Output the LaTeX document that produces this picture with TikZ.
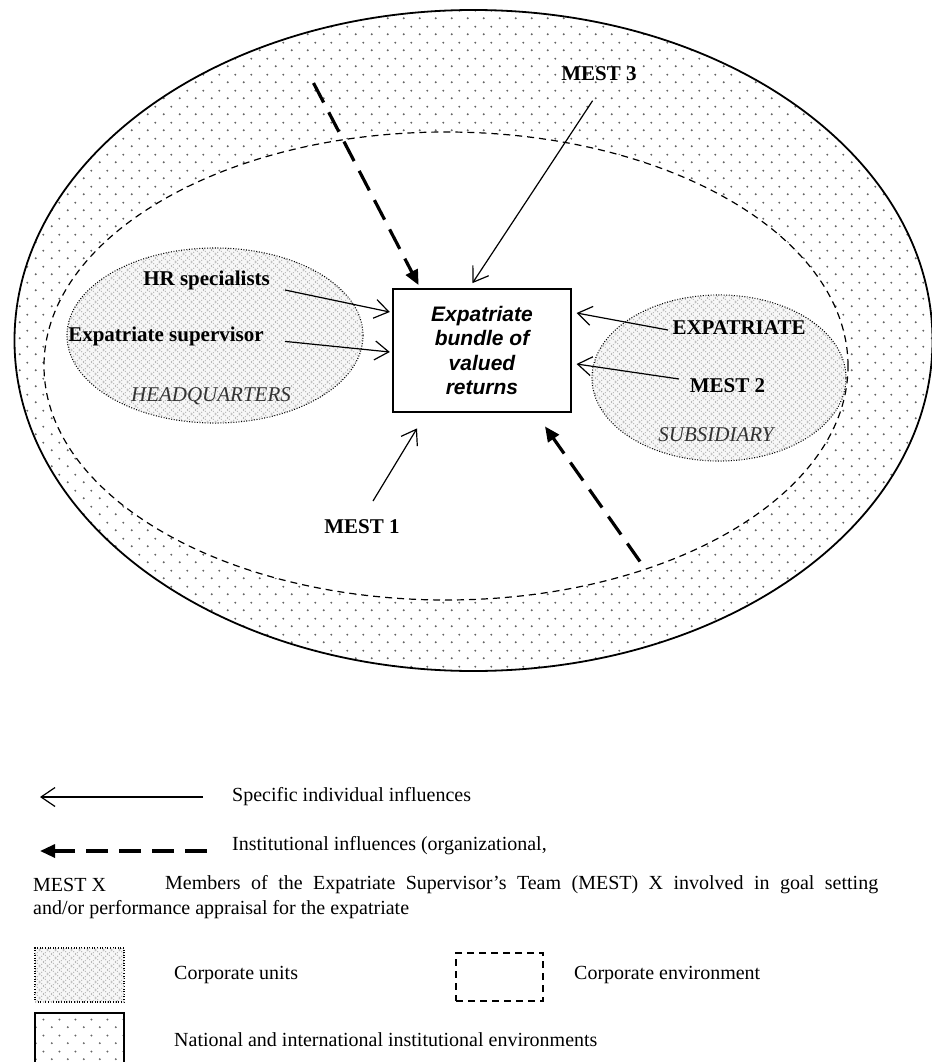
\documentclass[tikz,border=0pt]{standalone}
\usepackage{fontspec}
\setmainfont{Liberation Serif}
\newfontfamily\arialf{Liberation Sans}
\usetikzlibrary{arrows.meta,patterns.meta,shapes.geometric}

\tikzdeclarepattern{
  name=envdots,
  type=uncolored,
  bounding box={(0pt,0pt) and (16pt,16pt)},
  tile size={(16pt,16pt)},
  code={\fill (4pt,4pt) circle[radius=1.15pt]; \fill (12pt,12pt) circle[radius=1.15pt];}
}
\tikzdeclarepattern{
  name=unithatch,
  type=uncolored,
  bounding box={(-.5pt,-.5pt) and (8.5pt,8.5pt)},
  tile size={(8pt,8pt)},
  code={\draw[line width=0.85pt] (-.5pt,-.5pt) -- (8.5pt,8.5pt) (-.5pt,8.5pt) -- (8.5pt,-.5pt);}
}

\tikzset{
  envring/.style={ellipse, draw, line width=1.8pt, inner sep=0pt, pattern=envdots, pattern color=black!60},
  corpenv/.style={ellipse, draw, fill=white, line width=1.2pt, dash pattern=on 7pt off 5pt, inner sep=0pt},
  unitell/.style={ellipse, draw, line width=1.1pt, dash pattern=on 1pt off 1.6pt, inner sep=0pt, fill=black!3,
     postaction={pattern=unithatch, pattern color=black!28}},
  bundle/.style={draw, fill=white, line width=1.8pt, inner sep=0pt, minimum width=178pt, minimum height=123pt,
     align=center, font=\arialf\bfseries\itshape\fontsize{21}{24.5}\selectfont},
  actor/.style={inner sep=0pt, font=\bfseries\fontsize{21}{25}\selectfont},
  unitname/.style={inner sep=0pt, font=\itshape\fontsize{21}{25}\selectfont, text=black!80},
  legtext/.style={inner sep=0pt, anchor=west, font=\fontsize{20}{25}\selectfont},
  thinarr/.style={line width=1.2pt, -{Straight Barb[length=14pt,width=19pt,line width=1.2pt]}},
  dasharr/.style={line width=3.2pt, dash pattern=on 22pt off 11pt, -{Triangle[length=15pt,width=13pt]}},
  unitbox/.style={draw, line width=1.1pt, dash pattern=on 1pt off 1.6pt, inner sep=0pt, fill=black!3,
     postaction={pattern=unithatch, pattern color=black!28}},
  envbox/.style={draw, line width=1.2pt, dash pattern=on 7pt off 5pt, inner sep=0pt},
  natbox/.style={draw, line width=1.6pt, inner sep=0pt, pattern=envdots, pattern color=black!60}
}

\begin{document}
\begin{tikzpicture}[x=1pt,y=-1pt]
\useasboundingbox (0,0) rectangle (931,1062);

% environments
\node[envring, minimum width=918pt, minimum height=661pt] (outer) at (473.5,340.5) {};
\node[corpenv, minimum width=804pt, minimum height=468pt] (corp) at (446,366) {};

% corporate units
\node[unitell, minimum width=296pt, minimum height=175pt] (hq) at (215,335.5) {};
\node[unitell, minimum width=254pt, minimum height=166pt] (sub) at (719,378) {};

% central box
\node[bundle] (box) at (482,350.5) {Expatriate\\bundle of\\valued\\returns};

% labels
\node[actor] (hr) at (206.6,280.5) {HR specialists};
\node[actor] (es) at (166,336.5) {Expatriate supervisor};
\node[unitname] (hqname) at (211,396) {HEADQUARTERS};
\node[actor] (ex) at (739,328) {EXPATRIATE};
\node[actor] (m2) at (727.5,386) {MEST 2};
\node[unitname] (subname) at (716,435) {SUBSIDIARY};
\node[actor] (m3) at (599,74) {MEST 3};
\node[actor] (m1) at (362,527) {MEST 1};

% arrow start points
\coordinate (hrS) at (285,290);
\coordinate (esS) at (285,341.4);
\coordinate (exS) at (668,330);
\coordinate (m2S) at (679,379);
\coordinate (m3S) at (592.6,100.7);
\coordinate (m1S) at (373,501);
\coordinate (d1S) at (313.5,83);
\coordinate (d2S) at (640,561.5);

% arrows
\draw[thinarr] (hrS) -- ([shift={(-2.3,-38.5)}]box.west);
\draw[thinarr] (esS) -- ([shift={(-2.3,1.5)}]box.west);
\draw[thinarr] (exS) -- ([shift={(4.7,-37.5)}]box.east);
\draw[thinarr] (m2S) -- ([shift={(4.7,13.5)}]box.east);
\draw[thinarr] (m3S) -- ([shift={(-9.5,-5)}]box.north);
\draw[thinarr] (m1S) -- ([shift={(-65,15.5)}]box.south);
\draw[dasharr] (d1S) -- ([shift={(-63.4,-3)}]box.north);
\draw[dasharr] (d2S) -- ([shift={(63,13.5)}]box.south);

% legend
\coordinate (l1S) at (203,797);
\coordinate (l1T) at (40,797);
\draw[thinarr] (l1S) -- (l1T);
\node[legtext] (l1) at (232,797) {Specific individual influences};
\coordinate (l2S) at (207,851);
\coordinate (l2T) at (40,851);
\draw[dasharr] (l2S) -- (l2T);
\node[legtext] (l2) at (232,846) {Institutional influences (organizational,};
\node[legtext] (mx) at (33,885) {MEST X};
\node[legtext] (mxd) at (165,885) {\hbox to 713pt{Members of the Expatriate Supervisor’s Team (MEST) X involved in goal setting}};
\node[legtext] (mxd2) at (33,910) {and/or performance appraisal for the expatriate};
\node[unitbox, minimum width=89pt, minimum height=54pt] (lb1) at (79.5,975) {};
\node[legtext] (lt1) at (174,975) {Corporate units};
\node[envbox, minimum width=87pt, minimum height=48pt] (lb2) at (499.5,977) {};
\node[legtext] (lt2) at (574,975) {Corporate environment};
\node[natbox, minimum width=89pt, minimum height=54pt] (lb3) at (79.5,1040) {};
\node[legtext] (lt3) at (174,1040) {National and international institutional environments};
\end{tikzpicture}
\end{document}
